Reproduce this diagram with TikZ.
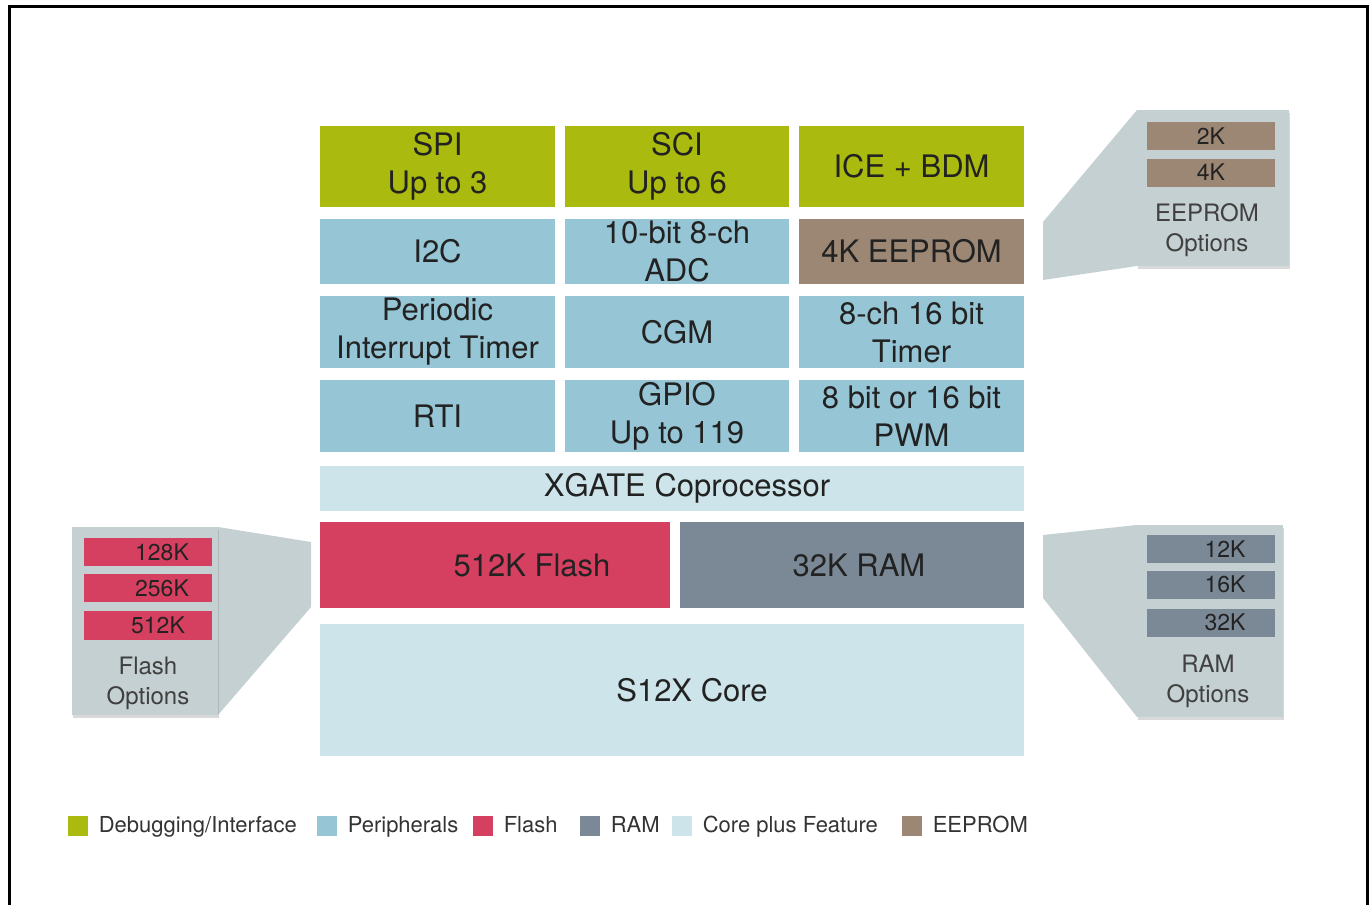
\documentclass[tikz,border=0pt]{standalone}
\usepackage{fontspec}
\setmainfont{TeX Gyre Heros}
\usetikzlibrary{positioning,shadows}
\definecolor{dbgc}{RGB}{170,186,14}
\definecolor{perc}{RGB}{150,198,213}
\definecolor{flsc}{RGB}{214,64,96}
\definecolor{ramc}{RGB}{123,137,150}
\definecolor{corec}{RGB}{204,228,234}
\definecolor{eepc}{RGB}{156,135,116}
\definecolor{optc}{RGB}{197,208,211}
\definecolor{txtc}{RGB}{34,34,34}

\begin{document}
\begin{tikzpicture}[x=0.5pt, y=-0.5pt,
  block/.style={rectangle, inner sep=0pt, align=center, text=txtc, font=\fontsize{15.5}{19}\selectfont},
  colA/.style={minimum width=117.5pt}, colB/.style={minimum width=112pt}, colC/.style={minimum width=112.5pt},
  optbox/.style={rectangle, fill=optc, inner sep=0pt, drop shadow={shadow xshift=0.5pt, shadow yshift=-1.5pt, opacity=0.3}},
  optbar/.style={rectangle, inner sep=0pt, minimum width=64pt, minimum height=14pt, text=txtc, font=\fontsize{11.5}{13}\selectfont},
  opttxt/.style={align=center, text=black!75, font=\fontsize{12}{15}\selectfont},
  key/.style={rectangle, inner sep=0pt, minimum size=10pt},
  keytxt/.style={right=5pt of #1, inner sep=0pt, text height=8pt, text depth=2pt, text=black!80, font=\fontsize{11}{13}\selectfont}]

  \useasboundingbox (0,0) rectangle (1372,905);
  \draw[line width=1.5pt] (9,905) -- (9,6) -- (1367,6) -- (1367,905);

  % top rows
  \node[block, colA, fill=dbgc, minimum height=40.5pt] (spi) at (437.5,166.5) {SPI\\Up to 3};
  \node[block, colB, fill=dbgc, minimum height=40.5pt] (sci) at (677,166.5) {SCI\\Up to 6};
  \node[block, colC, fill=dbgc, minimum height=40.5pt] (ice) at (911.5,166.5) {ICE + BDM};

  \node[block, colA, fill=perc, minimum height=32.5pt] (iic) at (437.5,251.5) {I2C};
  \node[block, colB, fill=perc, minimum height=32.5pt] (adc) at (677,251.5) {10-bit 8-ch\\ADC};
  \node[block, colC, fill=eepc, minimum height=32.5pt] (eeprom) at (911.5,251.5) {4K EEPROM};

  \node[block, colA, fill=perc, minimum height=36pt] (pit) at (437.5,332) {Periodic\\Interrupt Timer};
  \node[block, colB, fill=perc, minimum height=36pt] (cgm) at (677,332) {CGM};
  \node[block, colC, fill=perc, minimum height=36pt] (tim) at (911.5,332) {8-ch 16 bit\\Timer};

  \node[block, colA, fill=perc, minimum height=36pt] (rti) at (437.5,416) {RTI};
  \node[block, colB, fill=perc, minimum height=36pt] (gpio) at (677,416) {GPIO\\Up to 119};
  \node[block, colC, fill=perc, minimum height=36pt] (pwm) at (911.5,416) {8 bit or 16 bit\\PWM};

  % wide blocks
  \node[block, fill=corec, minimum width=352pt, minimum height=22.5pt] (xgate) at (672,488.5) {\hspace*{15pt}XGATE Coprocessor};
  \node[block, fill=flsc, minimum width=175pt, minimum height=43pt] (flash) at (495,565) {\hspace*{37pt}512K Flash};
  \node[block, fill=ramc, minimum width=172pt, minimum height=43pt] (ram) at (852,565) {\hspace*{7pt}32K RAM};
  \node[block, fill=corec, minimum width=352pt, minimum height=66pt] (core) at (672,690) {\hspace*{20pt}S12X Core};

  % option panels
  \fill[optc] (1137,110) -- (1043,222) -- (1043,280) -- (1137,266) -- cycle;
  \node[optbox, minimum width=76pt, minimum height=78pt] (eepopt) at (1213,188) {};
  \node[optbar, fill=eepc] (eepa) at (1211,136) {2K};
  \node[optbar, fill=eepc] (eepb) at (1211,172.5) {4K};
  \node[opttxt] (eeptxt) at (1207,230) {EEPROM\\Options};

  \fill[optc] (218,527) -- (311,542) -- (311,607) -- (218,715) -- cycle;
  \node[optbox, minimum width=73pt, minimum height=94pt] (flsopt) at (145,621) {};
  \node[optbar, fill=flsc] (flsa) at (148,552) {\hspace*{14pt}128K};
  \node[optbar, fill=flsc] (flsb) at (148,588) {\hspace*{14pt}256K};
  \node[optbar, fill=flsc, minimum height=14.5pt] (flsc) at (148,625.5) {\hspace*{10pt}512K};
  \node[opttxt] (flstxt) at (148,683) {Flash\\Options};

  \fill[optc] (1137,525) -- (1043,535) -- (1043,598) -- (1137,717) -- cycle;
  \node[optbox, minimum width=73pt, minimum height=96pt] (ramopt) at (1210,621) {};
  \node[optbar, fill=ramc] (rama) at (1211,549) {\hspace*{14pt}12K};
  \node[optbar, fill=ramc] (ramb) at (1211,584.5) {\hspace*{14pt}16K};
  \node[optbar, fill=ramc] (ramd) at (1211,622.5) {\hspace*{14pt}32K};
  \node[opttxt] (ramtxt) at (1208,681) {RAM\\Options};

  % legend
  \node[key, fill=dbgc] (kdbg) at (78,826) {};
  \node[keytxt=kdbg] {Debugging/Interface};
  \node[key, fill=perc] (kper) at (327,826) {};
  \node[keytxt=kper] {Peripherals};
  \node[key, fill=flsc] (kfls) at (483,826) {};
  \node[keytxt=kfls] {Flash};
  \node[key, fill=ramc] (kram) at (590,826) {};
  \node[keytxt=kram] {RAM};
  \node[key, fill=corec] (kcore) at (682,826) {};
  \node[keytxt=kcore] {Core plus Feature};
  \node[key, fill=eepc] (keep) at (912,826) {};
  \node[keytxt=keep] {EEPROM};

\end{tikzpicture}
\end{document}
